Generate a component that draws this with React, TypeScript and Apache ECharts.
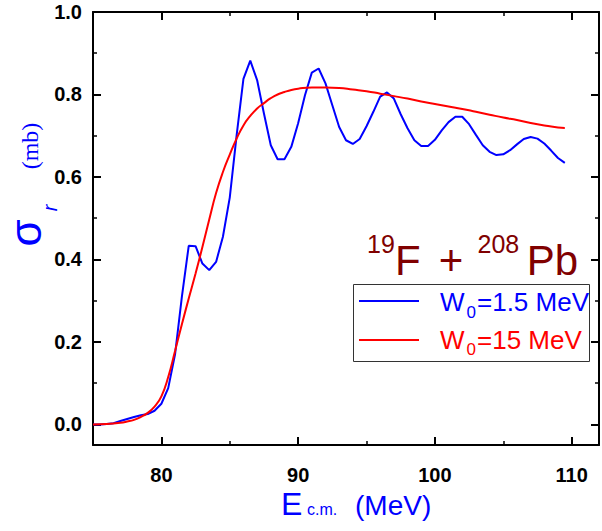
import React, { useEffect, useRef } from "react";
import * as echarts from "echarts";

// Energies (MeV) and reaction cross sections (mb)
const energyW15: number[] = [
  75, 75.5, 76, 76.5, 77, 77.5, 78, 78.5, 79, 79.5, 80, 80.5, 81, 81.5, 82, 82.5, 83, 83.5, 84, 84.5,
  85, 85.5, 86, 86.5, 87, 87.5, 88, 88.5, 89, 89.5, 90, 90.5, 91, 91.5, 92, 92.5, 93, 93.5, 94, 94.5,
  95, 95.5, 96, 96.5, 97, 97.5, 98, 98.5, 99, 99.5, 100, 100.5, 101, 101.5, 102, 102.5, 103, 103.5,
  104, 104.5, 105, 105.5, 106, 106.5, 107, 107.5, 108, 108.5, 109, 109.5,
];
const sigmaW15: number[] = [
  0, 0, 0.001, 0.003, 0.008, 0.013, 0.018, 0.022, 0.025, 0.033, 0.05, 0.088, 0.17, 0.31, 0.433, 0.432,
  0.39, 0.374, 0.394, 0.455, 0.55, 0.7, 0.838, 0.882, 0.835, 0.754, 0.677, 0.643, 0.643, 0.673, 0.73,
  0.798, 0.853, 0.863, 0.827, 0.774, 0.721, 0.689, 0.68, 0.692, 0.723, 0.758, 0.795, 0.805, 0.79,
  0.752, 0.718, 0.689, 0.675, 0.675, 0.69, 0.713, 0.733, 0.746, 0.746, 0.728, 0.702, 0.677, 0.661,
  0.653, 0.655, 0.665, 0.679, 0.692, 0.697, 0.693, 0.681, 0.664, 0.646, 0.634,
];

const energyW150: number[] = [
  75, 76, 77, 77.5, 78, 78.5, 79, 79.5, 80, 80.5, 81, 81.5, 82, 82.5, 83, 83.5, 84, 84.5, 85, 85.5,
  86, 86.5, 87, 87.5, 88, 88.5, 89, 89.5, 90, 91, 92, 93, 94, 95, 96, 97, 98, 99, 100, 101, 102, 103,
  104, 105, 106, 107, 108, 109, 109.5,
];
const sigmaW150: number[] = [
  0, 0.001, 0.004, 0.007, 0.011, 0.018, 0.028, 0.043, 0.068, 0.115, 0.178, 0.243, 0.305, 0.366, 0.43,
  0.497, 0.561, 0.612, 0.654, 0.693, 0.725, 0.748, 0.766, 0.779, 0.791, 0.8, 0.806, 0.811, 0.814,
  0.817, 0.817, 0.816, 0.812, 0.808, 0.802, 0.796, 0.79, 0.783, 0.777, 0.771, 0.765, 0.758, 0.751,
  0.744, 0.738, 0.731, 0.725, 0.72, 0.719,
];

const xTickLabels = ["80", "90", "100", "110"];
const yTickLabels = ["0.0", "0.2", "0.4", "0.6", "0.8", "1.0"];

const seriesNames = ["W0=1.5 MeV", "W0=15 MeV"];
const seriesColors = ["#0000ff", "#ff0000"];

const SANS = "'Liberation Sans', Arial, sans-serif";
const SERIF = "'Liberation Serif', 'Times New Roman', serif";

function xLabel(v: number): string {
  const s = String(Math.round(v));
  return Math.abs(v - Math.round(v)) < 1e-6 && xTickLabels.includes(s) ? s : "";
}
function yLabel(v: number): string {
  const s = v.toFixed(1);
  return Math.abs(v * 5 - Math.round(v * 5)) < 1e-6 && yTickLabels.includes(s) ? s : "";
}

const axisCommon = {
  type: "value" as const,
  axisLine: { show: true, onZero: false, lineStyle: { color: "#000", width: 2 } },
  axisTick: { show: true, inside: true, length: 8, lineStyle: { color: "#000", width: 2 } },
  minorTick: { show: true, splitNumber: 2, length: 4, lineStyle: { color: "#000", width: 1.5 } },
  splitLine: { show: false },
  minorSplitLine: { show: false },
};

const xRange = { min: 75, max: 112, splitNumber: 4 };
const yRange = { min: -0.05, max: 1.0, splitNumber: 5 };

export default function App() {
  const ref = useRef<HTMLDivElement>(null);

  useEffect(() => {
    if (!ref.current) return;
    const chart = echarts.init(ref.current, undefined, { renderer: "svg" });

    const labelStyle = {
      fontSize: 20,
      fontWeight: "bold" as const,
      color: "#000",
      fontFamily: SANS,
    };

    chart.setOption({
      animation: false,
      backgroundColor: "#fff",
      grid: { left: 93, top: 12, width: 515, height: 433, containLabel: false },
      xAxis: [
        {
          ...axisCommon,
          ...xRange,
          position: "bottom",
          axisLabel: { ...labelStyle, margin: 20, formatter: xLabel, showMinLabel: true, showMaxLabel: true },
        },
        {
          ...axisCommon,
          ...xRange,
          position: "top",
          axisLabel: { show: false },
        },
      ],
      yAxis: [
        {
          ...axisCommon,
          ...yRange,
          position: "left",
          axisLabel: { ...labelStyle, margin: 11, formatter: yLabel, showMinLabel: true, showMaxLabel: true },
        },
        {
          ...axisCommon,
          ...yRange,
          position: "right",
          axisLabel: { show: false },
        },
      ],
      series: [
        {
          name: seriesNames[0],
          type: "line",
          xAxisIndex: 0,
          yAxisIndex: 0,
          data: energyW15.map((e, i) => [e, sigmaW15[i]]),
          showSymbol: false,
          smooth: false,
          lineStyle: { color: seriesColors[0], width: 2 },
          itemStyle: { color: seriesColors[0] },
        },
        {
          name: seriesNames[1],
          type: "line",
          xAxisIndex: 0,
          yAxisIndex: 0,
          data: energyW150.map((e, i) => [e, sigmaW150[i]]),
          showSymbol: false,
          smooth: 0.5,
          lineStyle: { color: seriesColors[1], width: 2 },
          itemStyle: { color: seriesColors[1] },
        },
      ],
      graphic: [
        // y-axis title: sigma_r (mb), reading upwards
        {
          type: "text",
          x: 25,
          y: 233,
          rotation: Math.PI / 2,
          style: { text: "σ", fontSize: 44, fontFamily: SANS, fill: "#0000ff", align: "center", verticalAlign: "middle" },
        },
        {
          type: "text",
          x: 50,
          y: 208,
          rotation: Math.PI / 2,
          style: { text: "r", fontSize: 20, fontStyle: "italic", fontFamily: SANS, fill: "#0000ff", align: "center", verticalAlign: "middle" },
        },
        {
          type: "text",
          x: 30,
          y: 146,
          rotation: Math.PI / 2,
          style: { text: "(mb)", fontSize: 24, fontFamily: SERIF, fill: "#0000ff", align: "center", verticalAlign: "middle" },
        },
        // x-axis title: E_c.m. (MeV)
        {
          type: "text",
          x: 281,
          y: 504,
          style: { text: "E", fontSize: 32, fontFamily: SANS, fill: "#0000ff", align: "left", verticalAlign: "middle" },
        },
        {
          type: "text",
          x: 307,
          y: 509.5,
          style: { text: "c.m.", fontSize: 16, fontFamily: SANS, fill: "#0000ff", align: "left", verticalAlign: "middle" },
        },
        {
          type: "text",
          x: 355,
          y: 505,
          style: { text: "(MeV)", fontSize: 28, fontFamily: SANS, fill: "#0000ff", align: "left", verticalAlign: "middle" },
        },
        // reaction label
        {
          type: "text",
          x: 367,
          y: 243.5,
          style: { text: "19", fontSize: 25, fontFamily: SANS, fill: "#800000", align: "left", verticalAlign: "middle" },
        },
        {
          type: "text",
          x: 395,
          y: 260.5,
          style: { text: "F", fontSize: 42, fontFamily: SANS, fill: "#800000", align: "left", verticalAlign: "middle" },
        },
        {
          type: "text",
          x: 451,
          y: 260.5,
          style: { text: "+", fontSize: 42, fontFamily: SANS, fill: "#800000", align: "center", verticalAlign: "middle" },
        },
        {
          type: "text",
          x: 477.5,
          y: 243.5,
          style: { text: "208", fontSize: 25, fontFamily: SANS, fill: "#800000", align: "left", verticalAlign: "middle" },
        },
        {
          type: "text",
          x: 526.7,
          y: 260.5,
          style: { text: "Pb", fontSize: 42, fontFamily: SANS, fill: "#800000", align: "left", verticalAlign: "middle" },
        },
        // legend box
        {
          type: "rect",
          shape: { x: 353.5, y: 284.5, width: 236, height: 77 },
          style: { fill: "#fff", stroke: "#333", lineWidth: 1 },
          z: 10,
        },
        {
          type: "line",
          shape: { x1: 359, y1: 301, x2: 419, y2: 301 },
          style: { stroke: seriesColors[0], lineWidth: 2 },
          z: 11,
        },
        {
          type: "line",
          shape: { x1: 359, y1: 340, x2: 419, y2: 340 },
          style: { stroke: seriesColors[1], lineWidth: 2 },
          z: 11,
        },
        {
          type: "text",
          x: 440,
          y: 302,
          z: 11,
          style: { text: "W", fontSize: 26, fontFamily: SANS, fill: seriesColors[0], align: "left", verticalAlign: "middle" },
        },
        {
          type: "text",
          x: 466.5,
          y: 312,
          z: 11,
          style: { text: "0", fontSize: 17, fontFamily: SANS, fill: seriesColors[0], align: "left", verticalAlign: "middle" },
        },
        {
          type: "text",
          x: 477,
          y: 302,
          z: 11,
          style: { text: "=1.5 MeV", fontSize: 26, fontFamily: SANS, fill: seriesColors[0], align: "left", verticalAlign: "middle" },
        },
        {
          type: "text",
          x: 440,
          y: 339.5,
          z: 11,
          style: { text: "W", fontSize: 26, fontFamily: SANS, fill: seriesColors[1], align: "left", verticalAlign: "middle" },
        },
        {
          type: "text",
          x: 466.5,
          y: 349.5,
          z: 11,
          style: { text: "0", fontSize: 17, fontFamily: SANS, fill: seriesColors[1], align: "left", verticalAlign: "middle" },
        },
        {
          type: "text",
          x: 477,
          y: 339.5,
          z: 11,
          style: { text: "=15 MeV", fontSize: 26, fontFamily: SANS, fill: seriesColors[1], align: "left", verticalAlign: "middle" },
        },
      ],
    });

    return () => chart.dispose();
  }, []);

  return (
    <div
      ref={ref}
      style={{ position: "fixed", left: 0, top: 0, width: 602, height: 531, background: "#fff" }}
    />
  );
}
